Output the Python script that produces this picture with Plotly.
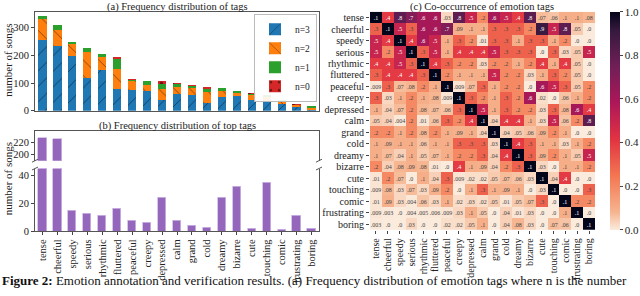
import plotly.graph_objects as go

tags = ["tense", "cheerful", "speedy", "serious", "rhythmic", "fluttered", "peaceful",
        "creepy", "depressed", "calm", "grand", "cold", "dreamy", "bizarre", "cute",
        "touching", "comic", "frustrating", "boring"]

# (a) stacked counts
n3 = [256, 236, 200, 119, 147, 80, 76, 73, 38, 62, 56, 29, 51, 53, 41, 35, 24, 14, 6]
n2 = [77, 58, 45, 96, 47, 71, 33, 22, 42, 24, 26, 39, 22, 14, 18, 17, 11, 8, 7]
n1 = [12, 17, 4, 11, 11, 37, 4, 13, 16, 12, 10, 14, 9, 5, 3, 3, 4, 1, 2]
n0 = [0, 0, 0, 0, 0, 4, 1, 0, 12, 2, 1, 3, 0, 0, 1, 0, 0, 1, 0]

# (b) top tags
top_counts = [226, 225, 15, 13, 11, 16, 8, 6, 24, 8, 4, 3, 24, 32, 2, 35, 1, 11, 2]

# (c) co-occurrence matrix
cooc = [
    [1, .4, .8, .7, .6, .6, .03, .8, .5, .2, .6, .5, .4, .8, .07, .06, .1, .1, .08],
    [.3, 1, .5, .3, .6, .6, .7, .09, .1, .1, .3, .3, .3, .2, .9, .5, .8, .05, 0],
    [.5, .4, 1, .4, .6, .5, .1, .3, .2, .01, .3, .3, .1, .3, .3, .1, .2, 0, 0],
    [.5, .2, .5, 1, .3, .5, .1, .4, .4, .4, .5, .3, .3, .3, 0, .3, .03, .05, .5],
    [.4, .4, .5, .3, 1, .4, .3, .2, .2, .03, .2, .2, .1, .2, .4, .1, .4, .05, 0],
    [.3, .4, .4, .4, .3, 1, .2, .1, .1, .1, .5, .2, .2, .03, .1, .3, .2, .05, 0],
    [.009, .3, .07, .08, .2, .1, 1, .009, .07, .3, .1, .2, .2, 0, .6, .5, .3, .05, .2],
    [.3, .03, .1, .2, .1, .08, .009, 1, .3, .2, .1, .3, .2, .6, .02, 0, .06, .1, .2],
    [.1, .04, .07, .2, .08, .07, .06, .3, 1, .5, .1, .3, .2, .2, .03, .3, .08, .6, .4],
    [.05, .04, .004, .2, .01, .06, .3, .2, .4, 1, .04, .4, .4, .1, .03, .5, .06, .2, .8],
    [.2, .2, .1, .2, .08, .2, .1, .09, .1, .04, 1, .04, .05, .06, .09, .2, .1, 0, 0],
    [.1, .09, .1, .1, .06, .1, .1, .3, .3, .3, .03, 1, .4, .3, .1, .1, .03, .1, .2],
    [.1, .07, .04, .1, .05, .07, .1, .2, .2, .3, .04, .4, 1, .3, .09, .2, .1, .05, .5],
    [.2, .04, .08, .09, .08, .01, 0, .4, .1, .09, .04, .2, .3, 1, .03, 0, .1, .1, .2],
    [.01, .2, .07, 0, .1, .04, .3, .009, .02, .02, .05, .07, .06, .03, 1, .04, .4, 0, 0],
    [.009, .08, .03, .07, .03, .09, .2, 0, .1, .3, .1, .09, .1, 0, .03, 1, 0, 0, .3],
    [.01, .09, .03, .004, .06, .03, .1, .02, .03, .02, .05, .01, .05, .07, .3, 0, 1, .2, .2],
    [.009, .003, 0, .004, .005, .006, .009, .03, .1, .05, 0, .04, .01, .03, 0, 0, .1, 1, 0],
    [.003, 0, 0, .03, 0, 0, .02, .02, .05, .1, 0, .04, .08, .03, 0, .07, .06, 0, 1],
]

colorbar_ticks = [0.0, 0.2, 0.4, 0.6, 0.8, 1.0]


def fmt(v):
    s = "%g" % v
    return "." + s.split(".")[-1] if "." in s else "." + s


cell_text = [[fmt(v) for v in row] for row in cooc]

FONT = "Liberation Serif"
H = 296.0
W = 640.0


def px_x(p):
    return p / W


def px_y(p):
    return 1 - p / H


fig = go.Figure()

# ---- (a) stacked bars
series = [("n=3", n3, "#1f77b4", "/"), ("n=2", n2, "#ff7f0e", "\\"),
          ("n=1", n1, "#2ca02c", ""), ("n=0", n0, "#d62728", ".")]
for name, vals, col, pat in series:
    fig.add_trace(go.Bar(
        x=tags, y=vals, name=name, xaxis="x", yaxis="y", width=0.55,
        marker=dict(color=col, line=dict(width=0),
                    pattern=dict(shape=pat, fgcolor="black", size=11, solidity=0.08)),
        showlegend=True))

# ---- (b) broken axis bars
for xa, ya in (("x3", "y2"), ("x2", "y3")):
    fig.add_trace(go.Bar(
        x=tags, y=top_counts, xaxis=xa, yaxis=ya, width=0.55,
        marker=dict(color="#9467bd", line=dict(width=0.8, color="#cdb9e3")),
        showlegend=False))

# ---- (c) heatmap
rocket_r = [[0.0, "#faebdd"], [0.083, "#f6b48f"], [0.25, "#f37651"], [0.417, "#e13342"],
            [0.583, "#ad1759"], [0.75, "#701f57"], [0.917, "#35193e"], [1.0, "#03051a"]]
fig.add_trace(go.Heatmap(
    z=cooc, x=tags, y=tags, xaxis="x4", yaxis="y4", text=cell_text,
    texttemplate="%{text}", textfont=dict(size=6, family=FONT),
    colorscale=rocket_r, zmin=0, zmax=1, xgap=0, ygap=0,
    colorbar=dict(x=px_x(610), xanchor="left", y=px_y(12), yanchor="top",
                  len=223 / H, lenmode="fraction", thickness=10, outlinewidth=0,
                  xpad=0, ypad=0,
                  tickvals=colorbar_ticks, tickformat=".1f", ticks="outside",
                  ticklen=3, tickfont=dict(size=11, family=FONT, color="#222"))))

axline = dict(showline=True, linecolor="#555", linewidth=1, showgrid=False, zeroline=False)
tickf = dict(size=10.5, family=FONT, color="#222")

ax_left, ax_right = px_x(35), px_x(319)

fig.update_layout(
    width=640, height=296, margin=dict(l=0, r=0, t=0, b=0),
    paper_bgcolor="white", plot_bgcolor="white", barmode="stack", bargap=0,
    font=dict(family=FONT, color="#222"),
    legend=dict(x=px_x(317), xanchor="right", y=px_y(14), yanchor="top",
                bordercolor="#bbb", borderwidth=1, bgcolor="rgba(255,255,255,0.9)",
                font=dict(size=9.5, family=FONT), traceorder="normal",
                itemwidth=30, tracegroupgap=0, itemsizing="constant"),
    xaxis=dict(domain=[ax_left, ax_right], anchor="y", type="category",
               range=[-0.5, 18.5], showticklabels=False, ticks="", mirror=True, **axline),
    yaxis=dict(domain=[px_y(113), px_y(12)], anchor="x", range=[0, 358],
               tickvals=[0, 100, 200, 300], ticks="outside", ticklen=3,
               tickfont=tickf, mirror=True, **axline),
    xaxis2=dict(domain=[ax_left, ax_right], anchor="y3", type="category",
                range=[-0.5, 18.5], tickangle=-90, ticks="outside", ticklen=3,
                tickmode="array", tickvals=tags,
                tickfont=dict(size=10.5, family=FONT, color="#222"), **axline),
    yaxis3=dict(domain=[px_y(236), px_y(172)], anchor="x2", range=[0, 45],
                tickvals=[0, 20, 40], ticks="outside", ticklen=3, tickfont=tickf,
                mirror=True, **axline),
    xaxis3=dict(domain=[ax_left, ax_right], anchor="y2", type="category",
                range=[-0.5, 18.5], side="top", showticklabels=False, ticks="",
                matches="x2", **axline),
    yaxis2=dict(domain=[px_y(164), px_y(134)], anchor="x3", range=[190, 238],
                tickvals=[200, 220], ticks="outside", ticklen=3, tickfont=tickf,
                mirror=True, **axline),
    xaxis4=dict(domain=[px_x(370), px_x(595)], anchor="y4", type="category",
                tickangle=-90, ticks="outside", ticklen=3, showgrid=False, zeroline=False,
                tickmode="array", tickvals=tags,
                tickfont=dict(size=10, family=FONT, color="#222")),
    yaxis4=dict(domain=[px_y(235), px_y(12)], anchor="x4", type="category",
                autorange="reversed", ticks="outside", ticklen=3, showgrid=False,
                tickmode="array", tickvals=tags,
                zeroline=False, tickfont=dict(size=10, family=FONT, color="#222")),
)

ann = [
    dict(text="(a) Frequency distribution of tags", x=px_x(177), y=px_y(0)),
    dict(text="(b) Frequency distribution of top tags", x=px_x(177), y=px_y(121)),
    dict(text="(c) Co-occurrence of emotion tags", x=px_x(482), y=px_y(0)),
]
for a in ann:
    fig.add_annotation(xref="paper", yref="paper", showarrow=False, xanchor="center",
                       yanchor="top", borderpad=0,
                       font=dict(size=10.5, family=FONT, color="#222"), **a)

for txt, yc in (("number of songs", 62), ("number of songs", 183)):
    fig.add_annotation(text=txt, xref="paper", yref="paper", x=px_x(8), y=px_y(yc),
                       showarrow=False, textangle=-90, xanchor="center", yanchor="middle",
                       font=dict(size=11, family=FONT, color="#222"))

fig.add_annotation(
    text="<b>Figure 2:</b> Emotion annotation and verification results. (a) Frequency distribution of emotion tags where n is the number",
    xref="paper", yref="paper", x=0, y=0, xanchor="left", yanchor="bottom",
    showarrow=False, font=dict(size=13, family=FONT, color="#111"))

# break marks on the broken axis of (b)
d = 3
for xp in (35, 319):
    for yp in (164, 172):
        fig.add_shape(type="line", xref="paper", yref="paper",
                      x0=px_x(xp - d), y0=px_y(yp + d / 2), x1=px_x(xp + d), y1=px_y(yp - d / 2),
                      line=dict(color="#555", width=1))

fig.write_html("out.html", config={"displayModeBar": False},
               post_script="document.body.style.margin='0';document.body.style.overflow='hidden';")
